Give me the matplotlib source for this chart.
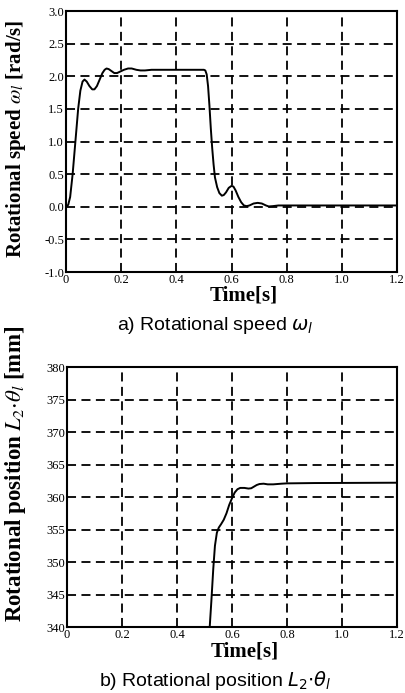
import matplotlib
matplotlib.use("Agg")
import matplotlib.pyplot as plt

# Rotational speed data
t_speed = [0.0, 0.008, 0.015, 0.024, 0.034, 0.044, 0.052, 0.06, 0.067, 0.075, 0.085, 0.095, 0.103,
           0.112, 0.122, 0.132, 0.14, 0.147, 0.155, 0.165, 0.175, 0.185, 0.195, 0.21, 0.225, 0.238,
           0.255, 0.27, 0.286, 0.31, 0.5, 0.505, 0.51, 0.515, 0.52, 0.525, 0.53, 0.535, 0.54, 0.548,
           0.556, 0.565, 0.572, 0.58, 0.59, 0.6, 0.607, 0.615, 0.625, 0.635, 0.645, 0.655, 0.665, 0.68,
           0.695, 0.71, 0.725, 0.735, 0.75, 0.77, 1.2]
w_speed = [0.0, 0.03, 0.15, 0.5, 1.0, 1.5, 1.78, 1.92, 1.95, 1.92, 1.85, 1.8, 1.8,
           1.85, 1.95, 2.05, 2.1, 2.12, 2.11, 2.08, 2.05, 2.05, 2.07, 2.1, 2.12, 2.12,
           2.1, 2.09, 2.09, 2.1, 2.1, 2.09, 2.03, 1.85, 1.55, 1.2, 0.9, 0.65, 0.45, 0.3,
           0.21, 0.17, 0.18, 0.22, 0.29, 0.32, 0.31, 0.25, 0.15, 0.07, 0.02, 0.01, 0.02, 0.05,
           0.06, 0.05, 0.02, 0.005, 0.01, 0.02, 0.02]

# Rotational position data
t_pos = [0.51, 0.519, 0.525, 0.532, 0.538, 0.545, 0.552, 0.56, 0.57, 0.58, 0.59, 0.6, 0.61, 0.62,
         0.63, 0.645, 0.66, 0.67, 0.68, 0.69, 0.7, 0.715, 0.73, 0.75, 0.78, 0.8, 0.9, 1.2]
p_pos = [333.0, 340.0, 344.0, 349.0, 352.5, 354.5, 355.3, 355.8, 356.5, 357.5, 358.8, 359.8, 360.7, 361.2,
         361.4, 361.4, 361.3, 361.35, 361.6, 361.85, 362.0, 362.05, 361.95, 361.95, 362.05, 362.1, 362.15, 362.2]

speed_ticks = [-1.0, -0.5, 0.0, 0.5, 1.0, 1.5, 2.0, 2.5, 3.0]
pos_ticks = [340, 345, 350, 355, 360, 365, 370, 375, 380]
time_ticks = [0, 0.2, 0.4, 0.6, 0.8, 1.0, 1.2]
time_labels = ["0", "0.2", "0.4", "0.6", "0.8", "1.0", "1.2"]

serif = ["Liberation Serif", "DejaVu Serif"]
sans = ["Liberation Sans", "DejaVu Sans"]

fig = plt.figure(figsize=(4.06, 6.93), dpi=100)


def style(ax):
    for s in ax.spines.values():
        s.set_linewidth(1.5)
        s.set_color("black")
    ax.tick_params(length=0, pad=1.5, labelsize=9)
    ax.grid(True, color="black", linestyle=(0, (5, 3)), linewidth=1.3)
    ax.set_xlim(0, 1.2)
    ax.set_xticks(time_ticks)
    ax.set_xticklabels(time_labels, family=serif, fontsize=9)


ax1 = fig.add_axes([0.1626, 0.6075, 0.8152, 0.3765])
ax1.plot(t_speed, w_speed, color="black", linewidth=1.4)
ax1.set_ylim(-1.0, 3.0)
ax1.set_yticks(speed_ticks)
ax1.set_yticklabels(["%.1f" % v for v in speed_ticks], family=serif, fontsize=9)
style(ax1)
ax1.set_ylabel(r"Rotational speed $\omega_l$ [rad/s]", family=serif, fontweight="bold",
               fontsize=15, math_fontfamily="stix")
ax1.yaxis.set_label_coords(-0.115, 0.51)
ax1.set_xlabel("Time[s]", family=serif, fontweight="bold", fontsize=15, labelpad=1)
ax1.xaxis.set_label_coords(0.537, -0.052)

ax2 = fig.add_axes([0.165, 0.0952, 0.8128, 0.3752])
ax2.plot(t_pos, p_pos, color="black", linewidth=1.4)
ax2.set_ylim(340, 380)
ax2.set_yticks(pos_ticks)
ax2.set_yticklabels([str(v) for v in pos_ticks], family=serif, fontsize=9)
style(ax2)
ax2.set_ylabel(r"Rotational position $L_2{\cdot}\theta_l$ [mm]", family=serif, fontweight="bold",
               fontsize=16.5, math_fontfamily="stix")
ax2.yaxis.set_label_coords(-0.118, 0.587)
ax2.set_xlabel("Time[s]", family=serif, fontweight="bold", fontsize=15, labelpad=1)
ax2.xaxis.set_label_coords(0.537, -0.055)

fig.text(0.53, 1 - 326 / 693, r"a) Rotational speed $\omega_l$", family=sans, fontsize=14,
         ha="center", va="center", math_fontfamily="dejavusans")
fig.text(0.53, 1 - 681 / 693, r"b) Rotational position $L_2{\cdot}\theta_l$", family=sans, fontsize=14,
         ha="center", va="center", math_fontfamily="dejavusans")

fig.savefig("out.png", dpi=100)
